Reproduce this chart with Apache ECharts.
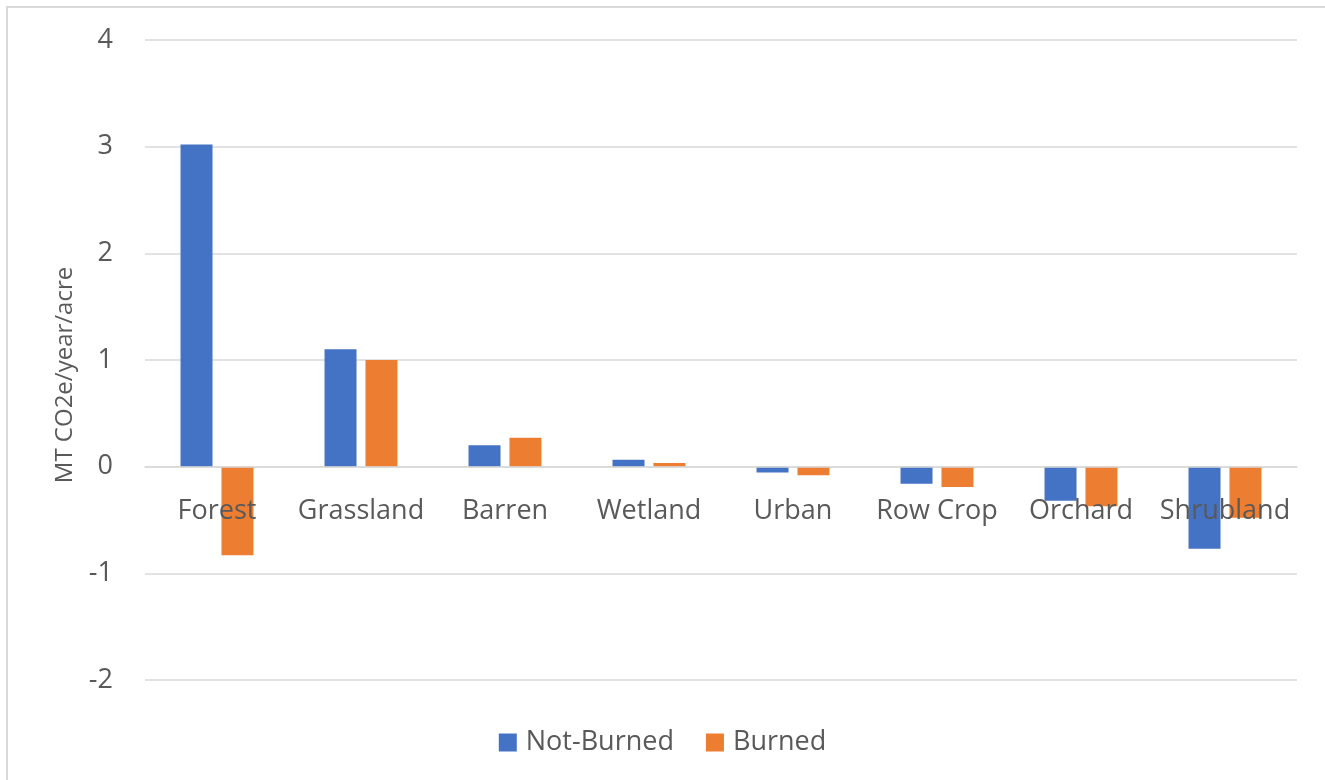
<!DOCTYPE html>
<html>
<head>
<meta charset="utf-8">
<script src="https://cdn.jsdelivr.net/npm/echarts@6/dist/echarts.min.js"></script>
<style>
  html, body { margin: 0; padding: 0; background: #fff; }
  #chart { width: 1325px; height: 780px; }
</style>
</head>
<body>
<div id="chart"></div>
<script>
const categories = ['Forest', 'Grassland', 'Barren', 'Wetland', 'Urban', 'Row Crop', 'Orchard', 'Shrubland'];
const notBurned = [3.02, 1.10, 0.20, 0.065, -0.055, -0.16, -0.32, -0.77];
const burned = [-0.83, 1.00, 0.27, 0.035, -0.08, -0.19, -0.37, -0.48];

const textColor = '#595959';
const gridColor = '#d9d9d9';
const font = '"Open Sans", "Noto Sans", sans-serif';

// plot area: y from -2 (bottom) to 4 (top), 640px tall -> zero sits 2/6 up
const plotTop = 40, plotBottom = 100, plotHeight = 780 - plotTop - plotBottom;
const zeroOffset = -plotHeight * 2 / 6;

const myChart = echarts.init(document.getElementById('chart'));
const option = {
    textStyle: { fontFamily: font },
    animation: false,
    grid: {
        left: 145,
        right: 28,
        top: plotTop,
        bottom: plotBottom
    },
    graphic: [
        {
            type: 'polyline',
            shape: { points: [[7, 780], [7, 7], [1325, 7]] },
            style: { stroke: gridColor, lineWidth: 2, fill: null }
        }
    ],
    legend: {
        bottom: 19,
        left: 'center',
        icon: 'rect',
        itemWidth: 18,
        itemHeight: 18,
        itemGap: 32,
        textStyle: {
            color: textColor,
            fontSize: 27,
            fontFamily: font,
            padding: [0, 0, 0, 4]
        },
        data: ['Not-Burned', 'Burned']
    },
    xAxis: {
        type: 'category',
        data: categories,
        z: 5,
        offset: zeroOffset,
        axisLine: {
            show: true,
            onZero: false,
            lineStyle: { color: gridColor, width: 1.5 }
        },
        axisTick: { show: false },
        axisLabel: {
            color: textColor,
            fontSize: 27,
            fontFamily: font,
            interval: 0,
            margin: 31
        }
    },
    yAxis: {
        type: 'value',
        min: -2,
        max: 4,
        interval: 1,
        name: 'MT CO2e/year/acre',
        nameLocation: 'middle',
        nameGap: 68,
        nameTextStyle: {
            color: textColor,
            fontSize: 24,
            fontFamily: font,
            padding: [0, 30, 0, 0]
        },
        axisLine: { show: false },
        axisTick: { show: false },
        axisLabel: {
            color: textColor,
            fontSize: 27,
            fontFamily: font,
            margin: 32
        },
        splitLine: {
            lineStyle: { color: gridColor, width: 1.5 }
        }
    },
    series: [
        {
            name: 'Not-Burned',
            type: 'bar',
            data: notBurned,
            barWidth: 32,
            barGap: '28%',
            itemStyle: { color: '#4472C4' }
        },
        {
            name: 'Burned',
            type: 'bar',
            data: burned,
            barWidth: 32,
            barGap: '28%',
            itemStyle: { color: '#ED7D31' }
        }
    ]
};
myChart.setOption(option);
</script>
</body>
</html>
